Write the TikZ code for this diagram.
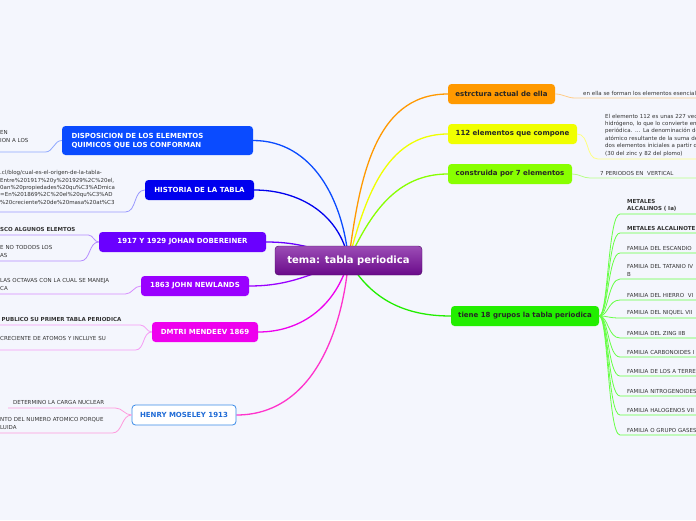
\documentclass[tikz,border=0pt]{standalone}
\usepackage{fontspec}
\setmainfont{DejaVu Sans}
\usetikzlibrary{backgrounds}

\definecolor{bgcol}{HTML}{F4F6FD}
\definecolor{leaftext}{HTML}{333333}
\definecolor{temaA}{HTML}{9C4DB6}
\definecolor{temaB}{HTML}{6A0A8A}
\definecolor{dispC}{HTML}{0A4BFF}
\definecolor{histC}{HTML}{0000EE}
\definecolor{dobC}{HTML}{6A00FF}
\definecolor{newlC}{HTML}{9A00FF}
\definecolor{mendC}{HTML}{EE00EE}
\definecolor{moseC}{HTML}{3B8BE8}
\definecolor{moseT}{HTML}{1F6BD6}
\definecolor{estrC}{HTML}{FF9900}
\definecolor{elemC}{HTML}{F0FF00}
\definecolor{consC}{HTML}{88FF00}
\definecolor{grupC}{HTML}{22EE00}
\definecolor{moseL}{HTML}{FF33CC}
\definecolor{dispS}{HTML}{8FA8FF}
\definecolor{histS}{HTML}{9A9AFF}
\definecolor{dobS}{HTML}{B58CFF}
\definecolor{newlS}{HTML}{D68CFF}
\definecolor{mendS}{HTML}{F59AF5}
\definecolor{moseS}{HTML}{FF9ADD}
\definecolor{estrS}{HTML}{FFCC88}
\definecolor{elemS}{HTML}{FFFF80}
\definecolor{consS}{HTML}{B8FF88}
\definecolor{grupS}{HTML}{66FF44}

\newcommand\leaffont{\fontsize{5.5}{7.4}\selectfont}
\newcommand\boxfont{\fontsize{7}{9}\selectfont\bfseries}
\newcommand\leafend[1]{\par\vspace{#1}}

\begin{document}
\begin{tikzpicture}[x=1pt,y=1pt,
  topic/.style={rounded corners=3.5pt,minimum height=20pt,inner sep=0pt,font=\boxfont,text=white,fill=#1},
  leafgap/.style={execute at end node={\leafend{#1}}},
  leaf/.style={font=\leaffont,text=leaftext,align=left,inner xsep=0pt,inner ysep=0.5pt,anchor=south west},
  trunk/.style={line width=1.3pt,draw=#1},
  twig/.style={line width=0.8pt,draw=#1}]

\useasboundingbox (0,0) rectangle (696,-520);
\clip (0,0) rectangle (696,-520);

% centre
\node[rounded corners=3.5pt,minimum width=147pt,minimum height=29pt,inner sep=0pt,
  draw=temaB!70!black,top color=temaA,middle color=temaB,bottom color=temaB,
  text=white,font=\fontsize{10}{12}\selectfont\bfseries] (tema) at (348.5,-260.5) {tema: tabla periodica};

% left topics
\node[topic=dispC,minimum width=191pt,minimum height=29pt,text width=172pt,align=left] (disp) at (157.5,-140.5)
  {DISPOSICION DE LOS ELEMENTOS\\QUIMICOS QUE LOS CONFORMAN};
\node[topic=histC,minimum width=109pt] (hist) at (199.5,-190) {HISTORIA DE LA TABLA};
\node[topic=dobC,minimum width=167pt] (dob) at (182.5,-242) {1917 Y 1929 JOHAN DOBEREINER};
\node[topic=newlC,minimum width=108pt] (newl) at (195,-286) {1863 JOHN NEWLANDS};
\node[topic=mendC,minimum width=106pt] (mend) at (205,-332) {DMTRI MENDEEV 1869};
\node[topic=white,draw=moseC,line width=0.8pt,text=moseT,minimum width=104pt] (mose) at (184,-415) {HENRY MOSELEY 1913};

% right topics
\node[topic=estrC,text=black!85,minimum width=107pt] (estr) at (501.5,-94) {estrctura actual de ella};
\node[topic=elemC,text=black!85,minimum width=129pt] (elem) at (512.5,-134) {112 elementos que compone};
\node[topic=consC,text=black!85,minimum width=124pt] (cons) at (510,-174) {construida por 7 elementos};
\node[topic=grupC,text=black!85,minimum width=148pt] (grup) at (525,-316) {tiene 18 grupos la tabla periodica};

% left leaves
\begin{scope}[every node/.style={leaf,leafgap=3pt}]
\node[text width=45pt,leafgap=6pt] (dispA) at (0,-152) {EN\\ION A LOS};
\node[text width=125pt,leafgap=4pt] (histA) at (0,-212)
  {.cl/blog/cual-es-el-origen-de-la-tabla-\\Entre\%201917\%20y\%201929\%2C\%20el,\\0an\%20propiedades\%20qu\%C3\%ADmica\\=En\%201869\%2C\%20el\%20qu\%C3\%AD\\\%20creciente\%20de\%20masa\%20at\%C3};
\node[text width=88pt] (dobA) at (0,-235) {\textbf{SCO ALGUNOS ELEMTOS}};
\node[text width=80pt] (dobB) at (0,-261) {E NO TODODS LOS\\AS};
\node[text width=125pt] (newlA) at (0,-294) {LAS OCTAVAS CON LA CUAL SE MANEJA\\CA};
\node[text width=137pt,inner xsep=1.5pt] (mendA) at (0,-325) {\textbf{PUBLICO SU PRIMER TABLA PERIODICA}};
\node[text width=135pt,leafgap=6pt] (mendB) at (0,-350) {CRECIENTE DE ATOMOS Y INCLUYE SU};
\node[text width=112pt] (moseB) at (0,-433) {NTO DEL NUMERO ATOMICO PORQUE\\LUIDA};
\end{scope}
\node[leaf,inner xsep=0pt,inner ysep=3.5pt] (moseA) at (8,-408) {\makebox[107pt][l]{\hspace{5pt}DETERMINO LA CARGA NUCLEAR}};

% right leaves
\begin{scope}[every node/.style={leaf,leafgap=2pt,text width=150pt,inner xsep=7pt}]
\node[inner xsep=8pt] (estrA) at (575,-98) {en ella se forman los elementos esenciales};
\node (elemA) at (598,-159)
  {El elemento 112 es unas 227 vec\\hidrógeno, lo que lo convierte en\\periódica. ... La denominación de\\atómico resultante de la suma de\\dos elementos iniciales a partir d\\(30 del zinc y 82 del plomo)};
\node[inner xsep=10pt] (consA) at (590,-178) {7 PERIODOS EN\ \ VERTICAL};
\node (g1) at (620,-214) {\textbf{METALES}\\\textbf{ALCALINOS ( Ia)}};
\node (g2) at (620,-233) {\textbf{METALES ALCALINOTE}};
\node (g3) at (620,-253) {FAMILIA DEL ESCANDIO};
\node (g4) at (620,-279) {FAMILIA DEL TATANIO IV\\B};
\node (g5) at (620,-300) {FAMILIA DEL HIERRO\ \ VI};
\node (g6) at (620,-318) {FAMILIA DEL NIQUEL VII};
\node (g7) at (620,-338) {FAMILIA DEL ZING IIB};
\node (g8) at (620,-357) {FAMILIA CARBONOIDES I};
\node (g9) at (620,-376) {FAMILIA DE LOS A TERRE};
\node (g10) at (620,-396) {FAMILIA NITROGENOIDES};
\node (g11) at (620,-415) {FAMILIA HALOGENOS VII};
\node (g12) at (620,-435) {FAMILIA O GRUPO GASES};
\end{scope}

% twigs
\draw[twig=dispS] (disp.west) to[out=180,in=0] (dispA.south east) -- (dispA.south west);
\draw[twig=histS] (hist.west) to[out=180,in=0] (histA.south east) -- (histA.south west);
\draw[twig=dobS] (dob.west) to[out=180,in=0] (dobA.south east) -- (dobA.south west);
\draw[twig=dobS] (dob.west) to[out=180,in=0] (dobB.south east) -- (dobB.south west);
\draw[twig=newlS] (newl.west) to[out=180,in=0] (newlA.south east) -- (newlA.south west);
\draw[twig=mendS] (mend.west) to[out=180,in=0] (mendA.south east) -- (mendA.south west);
\draw[twig=mendS] (mend.west) to[out=180,in=0] (mendB.south east) -- (mendB.south west);
\draw[twig=moseS] (mose.west) to[out=180,in=0] (moseA.south east) -- (moseA.south west);
\draw[twig=moseS] (mose.west) to[out=180,in=0] (moseB.south east) -- (moseB.south west);
\draw[twig=estrS] (estr.east) to[out=0,in=180] (estrA.south west) -- (estrA.south east);
\draw[twig=elemS] (elem.east) to[out=0,in=180] (elemA.south west) -- (elemA.south east);
\draw[twig=consS] (cons.east) to[out=0,in=180] (consA.south west) -- (consA.south east);
\foreach \g in {g1,g2,g3,g4,g5,g6,g7,g8,g9,g10,g11,g12}
  \draw[twig=grupS] (grup.east) .. controls +(9,0) and +(-12,0) .. (\g.south west) -- (\g.south east);

% trunks
\begin{scope}[on background layer]
\fill[bgcol] (0,0) rectangle (696,-520);
\draw[trunk=dispC] (tema.center) to[out=95,in=0] (disp.east);
\draw[trunk=histC] (tema.center) to[out=100,in=0] (hist.east);
\draw[trunk=dobC] (tema.center) to[out=160,in=0] (dob.east);
\draw[trunk=newlC] (tema.center) to[out=200,in=0] (newl.east);
\draw[trunk=mendC] (tema.center) to[out=255,in=0] (mend.east);
\draw[trunk=moseL] (tema.center) to[out=265,in=0] (mose.east);
\draw[trunk=estrC] (tema.center) to[out=82,in=180] (estr.west);
\draw[trunk=elemC] (tema.center) to[out=75,in=180] (elem.west);
\draw[trunk=consC] (tema.center) to[out=65,in=180] (cons.west);
\draw[trunk=grupC] (tema.center) to[out=300,in=180] (grup.west);
\end{scope}
\end{tikzpicture}
\end{document}
